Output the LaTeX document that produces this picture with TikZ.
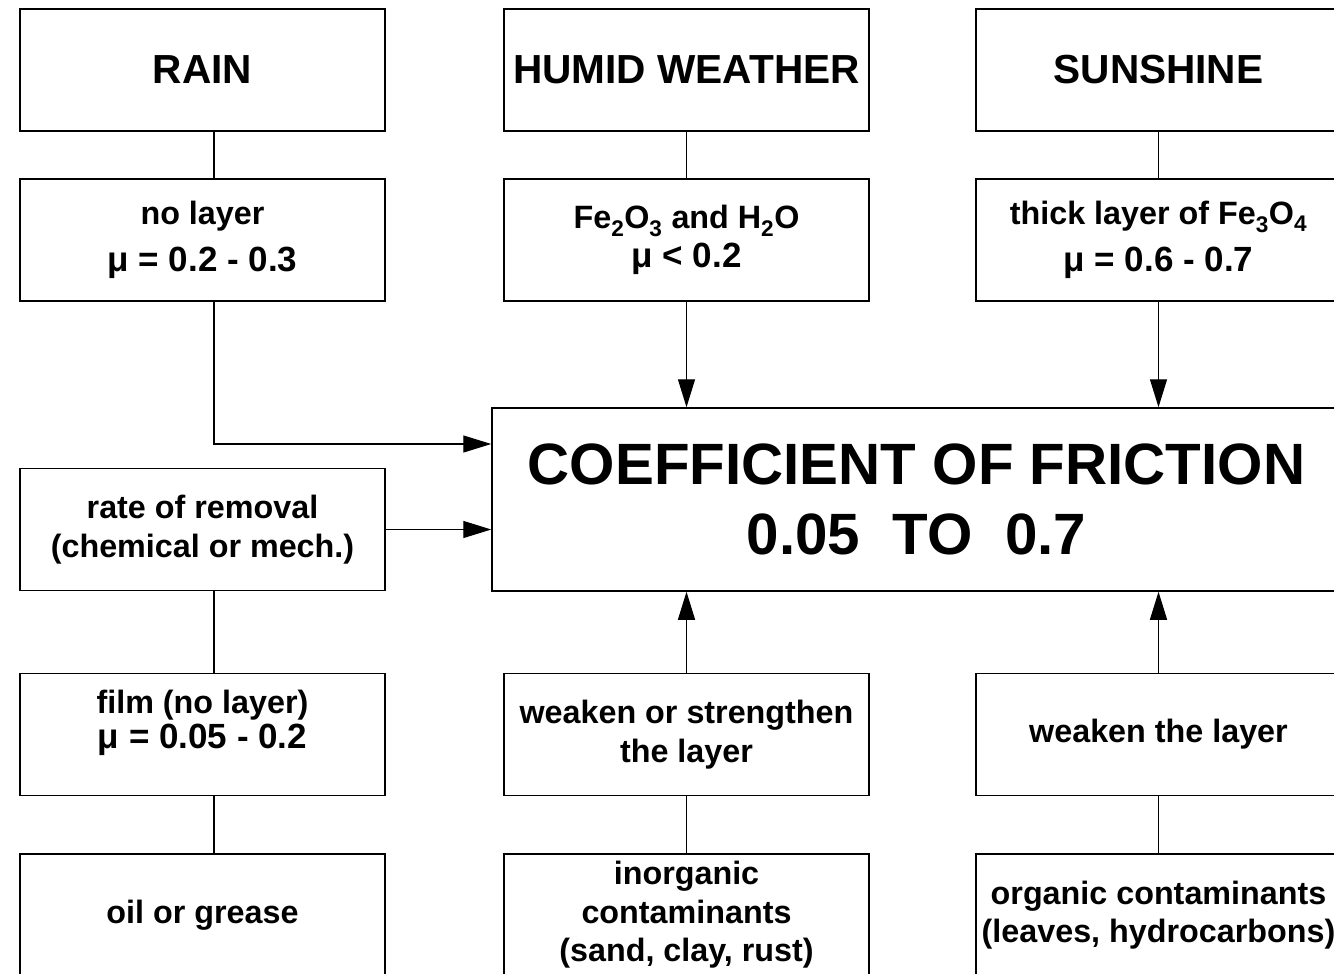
\documentclass[tikz,border=0pt]{standalone}
\usepackage{fontspec}
\setmainfont{Liberation Sans}
\usetikzlibrary{arrows.meta}

\begin{document}
\begin{tikzpicture} [x=1pt,y=-1pt,
  box/.style= {shape=rectangle,draw,line width=1.5pt,minimum width=365pt,minimum height=122pt,inner sep=0,align=center,font=\fontsize{32.3}{38.5}\selectfont\bfseries},
  big/.style= {font=\fontsize{40.6}{46}\selectfont\bfseries},
  link/.style= {line width=1.3pt},
  arr/.style= {link,-{Triangle[length=28pt,width=17pt]}}]
\useasboundingbox (0,0) rectangle (1334,974);

\node[box,big] (rain) at (202.5,70) {RAIN};
\node[box,big] (humid) at (686.5,70) {HUMID WEATHER};
\node[box,big] (sun) at (1158.5,70) {SUNSHINE};

\node[box] (nolayer) at (202.5,240) {no layer\\[8pt]{\fontsize{35}{40}\selectfont μ = 0.2 - 0.3}};
\node[box] (fe2o3) at (686.5,240) {Fe\textsubscript{2}O\textsubscript{3} and H\textsubscript{2}O\\{\fontsize{35}{40}\selectfont μ < 0.2}};
\node[box] (thick) at (1158.5,240) {thick layer of Fe\textsubscript{3}O\textsubscript{4}\\[8pt]{\fontsize{35}{40}\selectfont μ = 0.6 - 0.7}};

\node[box,minimum width=849pt,minimum height=183pt,font=\fontsize{58.3}{70}\selectfont\bfseries] (cof) at (916.5,499.5) {COEFFICIENT OF FRICTION\\0.05~~TO~~0.7};
\node[box] (removal) at (202.5,529.5) {rate of removal\\(chemical or mech.)};

\node[box] (film) at (202.5,734.5) {film (no layer)\\[-3pt]{\fontsize{35}{40}\selectfont μ = 0.05 - 0.2}\\[-8pt]\mbox{}};
\node[box] (strength) at (686.5,734.5) {weaken or strengthen\\the layer};
\node[box] (weaken) at (1158.5,734.5) {weaken the layer};

\node[box] (oil) at (202.5,915) {oil or grease};
\node[box] (inorg) at (686.5,915) {inorganic\\contaminants\\(sand, clay, rust)};
\node[box] (org) at (1158.5,915) {organic contaminants\\(leaves, hydrocarbons)};

\coordinate (lx) at (214,0);
\coordinate (ny) at (0,444);

\draw[link] (rain.south -| lx) -- (nolayer.north -| lx);
\draw[link] (removal.south -| lx) -- (film.north -| lx);
\draw[link] (film.south -| lx) -- (oil.north -| lx);
\foreach \a/\b in {humid/fe2o3,sun/thick,strength/inorg,weaken/org}{%
  \draw[link] (\a) -- (\b);}

\draw[arr] (nolayer.south -| lx) |- (cof.west |- ny);
\draw[arr] (removal.east) -- (cof.west |- removal.east);
\foreach \n in {fe2o3,thick}{%
  \draw[arr] (\n.south) -- (cof.north -| \n);}
\foreach \n in {strength,weaken}{%
  \draw[arr] (\n.north) -- (cof.south -| \n);}
\end{tikzpicture}
\end{document}
